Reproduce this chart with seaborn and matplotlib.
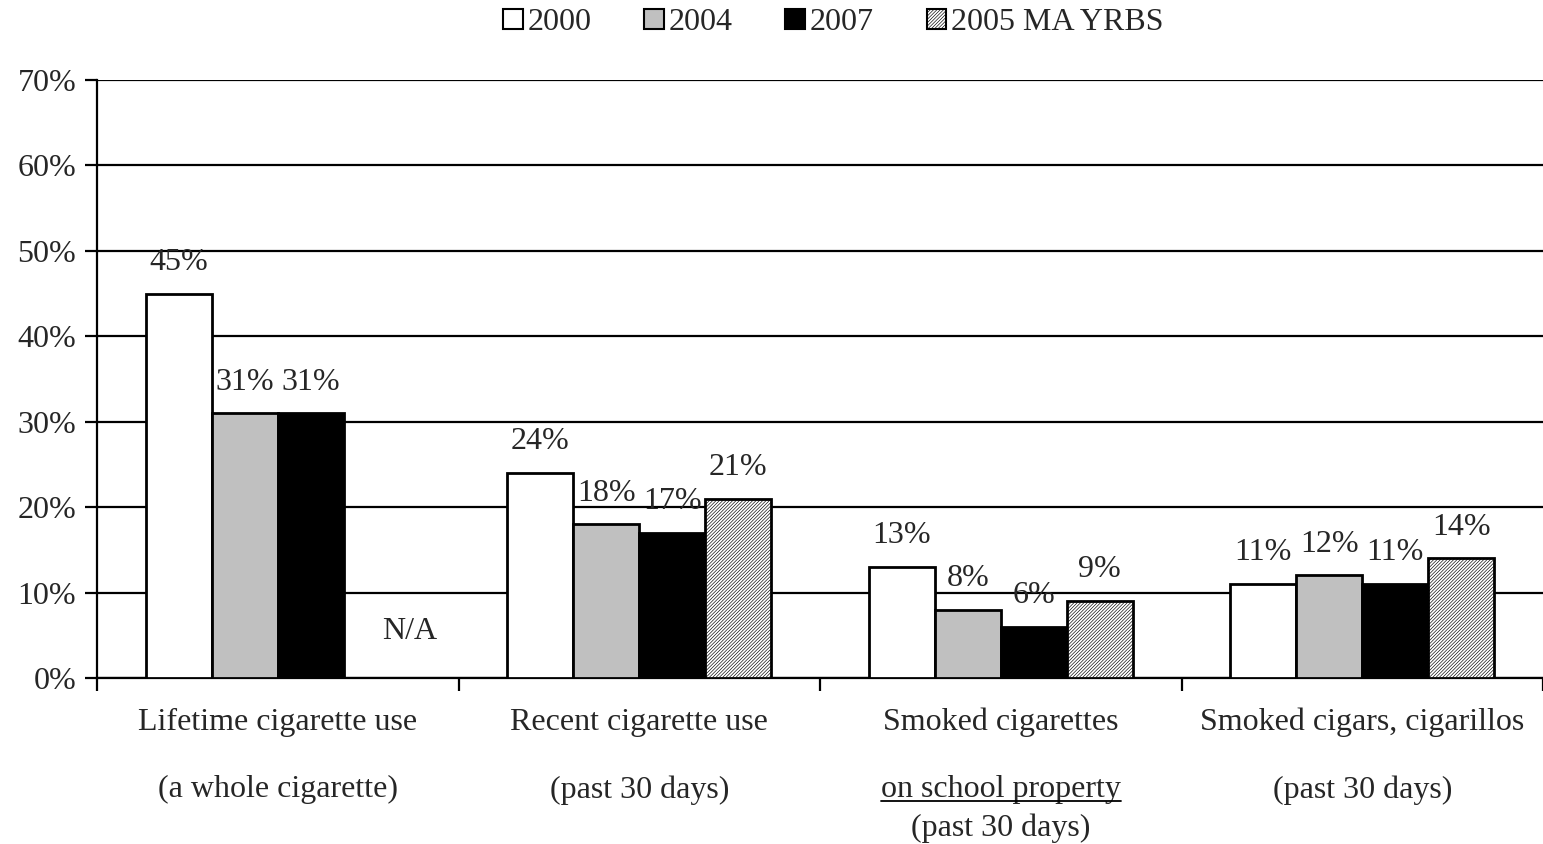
import pandas as pd
import numpy as np
import matplotlib.pyplot as plt
import seaborn as sns
from matplotlib.lines import Line2D

# Data
categories = ["Lifetime", "Recent", "School", "Cigars"]
series = ["2000", "2004", "2007", "2005 MA YRBS"]
values_2000 = [45, 24, 13, 11]
values_2004 = [31, 18, 8, 12]
values_2007 = [31, 17, 6, 11]
values_yrbs = [np.nan, 21, 9, 14]
label_line1 = ["Lifetime cigarette use", "Recent cigarette use",
               "Smoked cigarettes", "Smoked cigars, cigarillos"]
label_line2 = ["(a whole cigarette)", "(past 30 days)",
               "on school property", "(past 30 days)"]
label_line3 = ["", "", "(past 30 days)", ""]

rows = []
for s, vals in zip(series, [values_2000, values_2004, values_2007, values_yrbs]):
    for c, v in zip(categories, vals):
        rows.append({"category": c, "series": s, "value": v})
data = pd.DataFrame(rows)

sns.set_style("white")
plt.rcParams['font.family'] = ['Liberation Serif', 'DejaVu Serif']
plt.rcParams['hatch.linewidth'] = 0.45
FS = 23
HATCH = "//////////"

fig = plt.figure(figsize=(15.43, 8.44), dpi=100)
ax = fig.add_axes([0.0629, 0.1967, 0.9371, 0.7085])

palette = {"2000": "white", "2004": "#c0c0c0", "2007": "black", "2005 MA YRBS": "white"}
sns.barplot(data=data, x="category", y="value", hue="series", order=categories,
            hue_order=series, palette=palette, width=0.73, edgecolor="black",
            linewidth=2, ax=ax, legend=False, zorder=3)

# hatch for the YRBS series
for patch in ax.containers[3]:
    patch.set_hatch(HATCH)

ax.set_ylim(0, 70)
ax.set_xlim(-0.5, 3.5)
ax.set_yticks(range(0, 71, 10))
ax.set_yticklabels([f"{t}%" for t in range(0, 71, 10)], fontsize=FS)
ax.yaxis.grid(True, color="black", linewidth=1.6, zorder=0)
ax.set_axisbelow(True)
ax.set_xticks([-0.5, 0.5, 1.5, 2.5, 3.5])
ax.set_xticklabels([])
ax.tick_params(axis="both", direction="out", length=9, width=1.6, color="black",
               left=True, bottom=True)
ax.tick_params(axis="y", pad=6)
ax.set_xlabel("")
ax.set_ylabel("")
for side in ["top", "right"]:
    ax.spines[side].set_visible(False)
for side in ["left", "bottom"]:
    ax.spines[side].set_color("black")
    ax.spines[side].set_linewidth(1.6)

# value labels
for cont in ax.containers:
    labels = ["" if np.isnan(v) else f"{v:.0f}%" for v in cont.datavalues]
    ax.bar_label(cont, labels=labels, padding=12, fontsize=FS)

# N/A marker for the missing YRBS bar, placed to the right of the 2007 bar
ref_bars = ax.containers[2].patches
for i, v in enumerate(values_yrbs):
    if np.isnan(v):
        p = ref_bars[i]
        ax.text(p.get_x() + p.get_width() * 2.0, 5.4, "N/A",
                ha="center", va="center", fontsize=FS)

# category labels
trans = ax.get_xaxis_transform()
underlined = []
for i, (l1, l2, l3) in enumerate(zip(label_line1, label_line2, label_line3)):
    ax.text(i, -0.074, l1, transform=trans, ha="center", va="center", fontsize=FS)
    t2 = ax.text(i, -0.187, l2, transform=trans, ha="center", va="center", fontsize=FS)
    if l3:
        ax.text(i, -0.251, l3, transform=trans, ha="center", va="center", fontsize=FS)
        underlined.append(t2)

# legend
handles = [plt.Rectangle((0, 0), 1, 1, facecolor=palette[s], edgecolor="black",
                         linewidth=1.5, hatch=HATCH if s == "2005 MA YRBS" else None)
           for s in series]
fig.legend(handles, series, loc="center", bbox_to_anchor=(0.540, 0.973), ncol=4,
           frameon=False, fontsize=FS, handlelength=0.62, handleheight=0.6,
           handletextpad=0.15, columnspacing=1.65)

# underline the "on school property" text
fig.canvas.draw()
renderer = fig.canvas.get_renderer()
inv = fig.transFigure.inverted()
for t in underlined:
    bb = t.get_window_extent(renderer)
    (x0, y0), (x1, y1) = inv.transform([(bb.x0, bb.y0 + 3), (bb.x1, bb.y0 + 3)])
    fig.add_artist(Line2D([x0, x1], [y0, y1], color="black", linewidth=1.3,
                          transform=fig.transFigure))

fig.savefig("out.png", dpi=100)
